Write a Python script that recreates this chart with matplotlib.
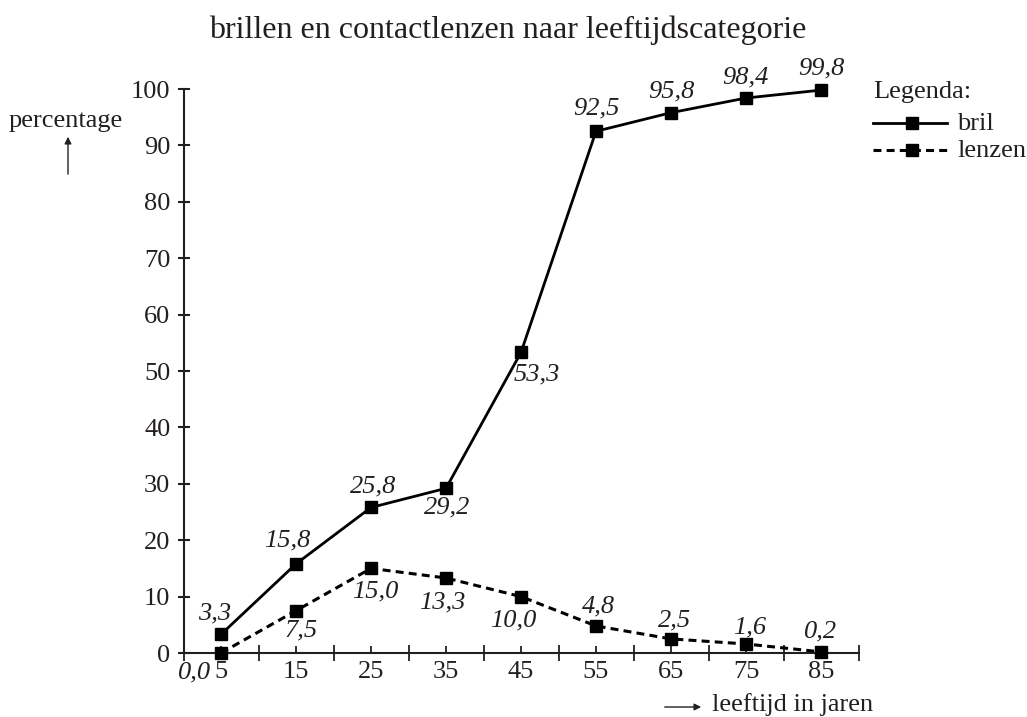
import matplotlib
matplotlib.use("Agg")
import matplotlib.pyplot as plt
from matplotlib.lines import Line2D
from matplotlib.patches import FancyArrowPatch

plt.rcParams['font.family'] = ['Liberation Serif', 'DejaVu Serif']

ages = [5, 15, 25, 35, 45, 55, 65, 75, 85]
bril = [3.3, 15.8, 25.8, 29.2, 53.3, 92.5, 95.8, 98.4, 99.8]
lenzen = [0.0, 7.5, 15.0, 13.3, 10.0, 4.8, 2.5, 1.6, 0.2]
yticks = [0, 10, 20, 30, 40, 50, 60, 70, 80, 90, 100]
xlabels_ticks = [5, 15, 25, 35, 45, 55, 65, 75, 85]
xminor = [0, 10, 20, 30, 40, 50, 60, 70, 80, 90]
title = "brillen en contactlenzen naar leeftijdscategorie"

# label offsets in pixels (dx, dy; dy positive = up)
bril_off = [(-6, 21), (-9, 23), (2, 21), (1, -19), (16, -22), (0, 23), (0, 21), (-1, 21), (0, 22)]
lenzen_off = [(-26, -19), (5, -20), (4, -23), (-4, -24), (-8, -24), (3, 19), (4, 18), (4, 17), (0, 20)]

W, H = 1027, 717
fig = plt.figure(figsize=(W / 100, H / 100), dpi=100)
TXT = '#231f20'
FS = 19

def fx(px):
    return px / W

def fy(py):
    return 1 - py / H

ax = fig.add_axes([fx(183.5), fy(653), (858.5 - 183.5) / W, (653 - 89) / H])
ax.set_xlim(0, 90)
ax.set_ylim(0, 100)
for s in ['top', 'right']:
    ax.spines[s].set_visible(False)
for s in ['left', 'bottom']:
    ax.spines[s].set_linewidth(1.5)
    ax.spines[s].set_color(TXT)

ax.plot(ages, bril, color='black', lw=2.0, marker='s', ms=8.5, clip_on=False, zorder=5)
ln, = ax.plot(ages, lenzen, color='black', lw=2.2, marker='s', ms=8.5, clip_on=False, zorder=5)
ln.set_dashes((2.6, 1.7))

def fmt(v):
    return f"{v:.1f}".replace('.', ',')

for x, v, (dx, dy) in zip(ages, bril, bril_off):
    ax.annotate(fmt(v), (x, v), xytext=(dx, dy), textcoords='offset pixels',
                ha='center', va='center', fontsize=FS, style='italic', color=TXT,
                annotation_clip=False)
for x, v, (dx, dy) in zip(ages, lenzen, lenzen_off):
    ax.annotate(fmt(v), (x, v), xytext=(dx, dy), textcoords='offset pixels',
                ha='center', va='center', fontsize=FS, style='italic', color=TXT,
                annotation_clip=False)

ax.set_yticks(yticks)
ax.set_yticklabels([str(t) for t in yticks])
ax.tick_params(axis='y', direction='inout', length=9, width=1.5, pad=5,
               labelsize=FS, colors=TXT)
ax.set_xticks(xlabels_ticks)
ax.set_xticklabels([str(t) for t in xlabels_ticks])
ax.set_xticks(xminor, minor=True)
ax.tick_params(axis='x', which='major', direction='in', length=5, width=1.3, pad=6,
               labelsize=FS, colors=TXT)
ax.tick_params(axis='x', which='minor', direction='inout', length=11, width=1.3, colors=TXT)

# title
fig.text(fx(508), fy(38), title, ha='center', va='baseline', fontsize=23, color=TXT)

# y axis label with arrow
fig.text(fx(66), fy(127), "percentage", ha='center', va='baseline', fontsize=FS, color=TXT)
fig.add_artist(FancyArrowPatch((fx(68), fy(177)), (fx(68), fy(134)),
               transform=fig.transFigure, arrowstyle='-|>', mutation_scale=10,
               lw=1.0, color=TXT))

# x axis label with arrow
fig.add_artist(FancyArrowPatch((fx(662), fy(707)), (fx(704), fy(707)),
               transform=fig.transFigure, arrowstyle='-|>', mutation_scale=10,
               lw=1.0, color=TXT))
fig.text(fx(712), fy(711), "leeftijd in jaren", ha='left', va='baseline', fontsize=FS, color=TXT)

# legend
fig.text(fx(873), fy(98), "Legenda:", ha='left', va='baseline', fontsize=FS, color=TXT)
l1 = Line2D([fx(873), fx(947)], [fy(123), fy(123)], transform=fig.transFigure,
            color='black', lw=2.0)
m1 = Line2D([fx(912)], [fy(123)], transform=fig.transFigure, color='black',
            marker='s', ms=8.5, lw=0)
l2 = Line2D([fx(873), fx(947)], [fy(150), fy(150)], transform=fig.transFigure,
            color='black', lw=2.2)
l2.set_dashes((2.6, 1.7))
m2 = Line2D([fx(912)], [fy(150)], transform=fig.transFigure, color='black',
            marker='s', ms=8.5, lw=0)
for a in (l1, m1, l2, m2):
    fig.add_artist(a)
fig.text(fx(957), fy(130), "bril", ha='left', va='baseline', fontsize=FS, color=TXT)
fig.text(fx(957), fy(157), "lenzen", ha='left', va='baseline', fontsize=FS, color=TXT)

fig.savefig("out.png", dpi=100)
